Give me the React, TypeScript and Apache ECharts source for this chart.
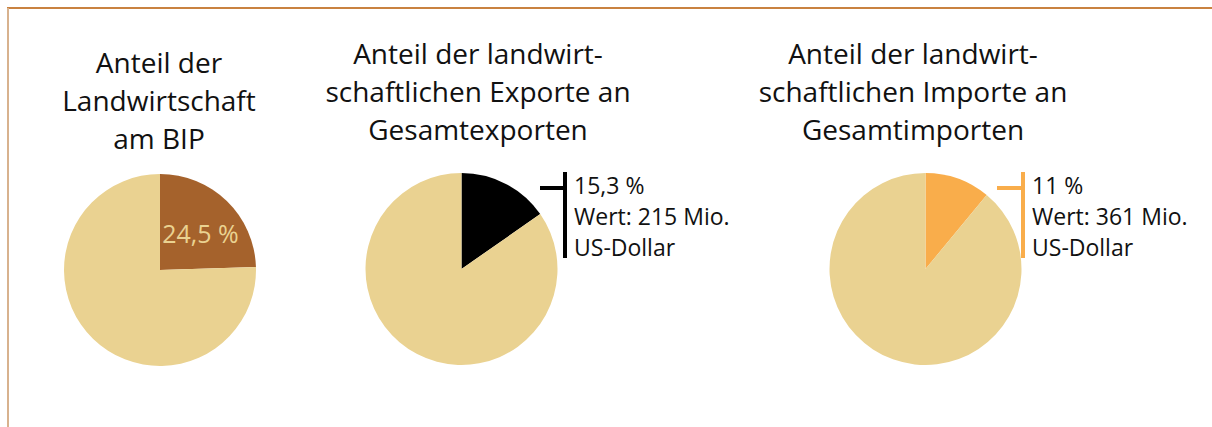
import React, { useEffect, useRef } from "react";
import * as echarts from "echarts";

const pieTitles: string[][] = [
  ["Anteil der", "Landwirtschaft", "am BIP"],
  ["Anteil der landwirt-", "schaftlichen Exporte an", "Gesamtexporten"],
  ["Anteil der landwirt-", "schaftlichen Importe an", "Gesamtimporten"],
];
const shareValues: number[] = [24.5, 15.3, 11];
const shareLabels: string[] = ["24,5 %", "15,3 %", "11 %"];
const valueLabels: string[] = ["", "Wert: 215 Mio.", "Wert: 361 Mio."];
const unitLabels: string[] = ["", "US-Dollar", "US-Dollar"];
const sliceColors: string[] = ["#a5622c", "#000000", "#f9ad4b"];
const restColor = "#ead291";

const FONT = "'Open Sans', sans-serif";

export default function App() {
  const ref = useRef<HTMLDivElement>(null);
  useEffect(() => {
    if (!ref.current) return;
    const chart = echarts.init(ref.current, undefined, { renderer: "svg" });
    const centers = [
      [160, 270],
      [461.5, 269],
      [925.5, 269],
    ];
    const titleX = [159, 478, 913];
    const titleY = [62, 53, 53];
    const radius = 96;

    const series = shareValues.map((v, i) => ({
      type: "pie",
      center: centers[i],
      radius: [0, radius],
      startAngle: 90,
      clockwise: true,
      silent: true,
      label: { show: false },
      labelLine: { show: false },
      data: [
        {
          value: v,
          name: shareLabels[i],
          itemStyle: { color: sliceColors[i] },
          label:
            i === 0
              ? {
                  show: true,
                  position: "inside",
                  formatter: shareLabels[i],
                  color: restColor,
                  fontSize: 25,
                  fontFamily: FONT,
                  padding: [4, 0, 0, 10],
                }
              : { show: false },
        },
        { value: 100 - v, name: "rest", itemStyle: { color: restColor } },
      ],
    }));

    const graphics: any[] = [
      {
        type: "line",
        shape: { x1: 7, y1: 8, x2: 1212, y2: 8 },
        style: { stroke: "#c98240", lineWidth: 2 },
      },
      {
        type: "line",
        shape: { x1: 8, y1: 8, x2: 8, y2: 427 },
        style: { stroke: "#d8b28e", lineWidth: 2 },
      },
    ];
    pieTitles.forEach((lines, i) => {
      lines.forEach((t, j) => {
        graphics.push({
          type: "text",
          x: titleX[i],
          y: titleY[i] + j * 38,
          style: {
            text: t,
            fill: "#111",
            font: `28px ${FONT}`,
            textAlign: "center",
            textVerticalAlign: "middle",
          },
        });
      });
    });
    [1, 2].forEach((i) => {
      const vx = i === 1 ? 565 : 1023;
      const hx = i === 1 ? 540 : 997;
      graphics.push({
        type: "line",
        shape: { x1: hx, y1: 188, x2: vx, y2: 188 },
        style: { stroke: sliceColors[i], lineWidth: 4 },
      });
      graphics.push({
        type: "line",
        shape: { x1: vx, y1: 172, x2: vx, y2: 258 },
        style: { stroke: sliceColors[i], lineWidth: 4 },
      });
      [shareLabels[i], valueLabels[i], unitLabels[i]].forEach((t, j) => {
        graphics.push({
          type: "text",
          x: vx + 9,
          y: 185 + j * 31,
          style: {
            text: t,
            fill: "#111",
            font: `23px ${FONT}`,
            textAlign: "left",
            textVerticalAlign: "middle",
          },
        });
      });
    });

    chart.setOption({
      animation: false,
      backgroundColor: "#ffffff",
      series,
      graphic: graphics,
    });
    return () => chart.dispose();
  }, []);
  return (
    <div
      ref={ref}
      style={{ position: "fixed", left: 0, top: 0, width: 1212, height: 427 }}
    />
  );
}
